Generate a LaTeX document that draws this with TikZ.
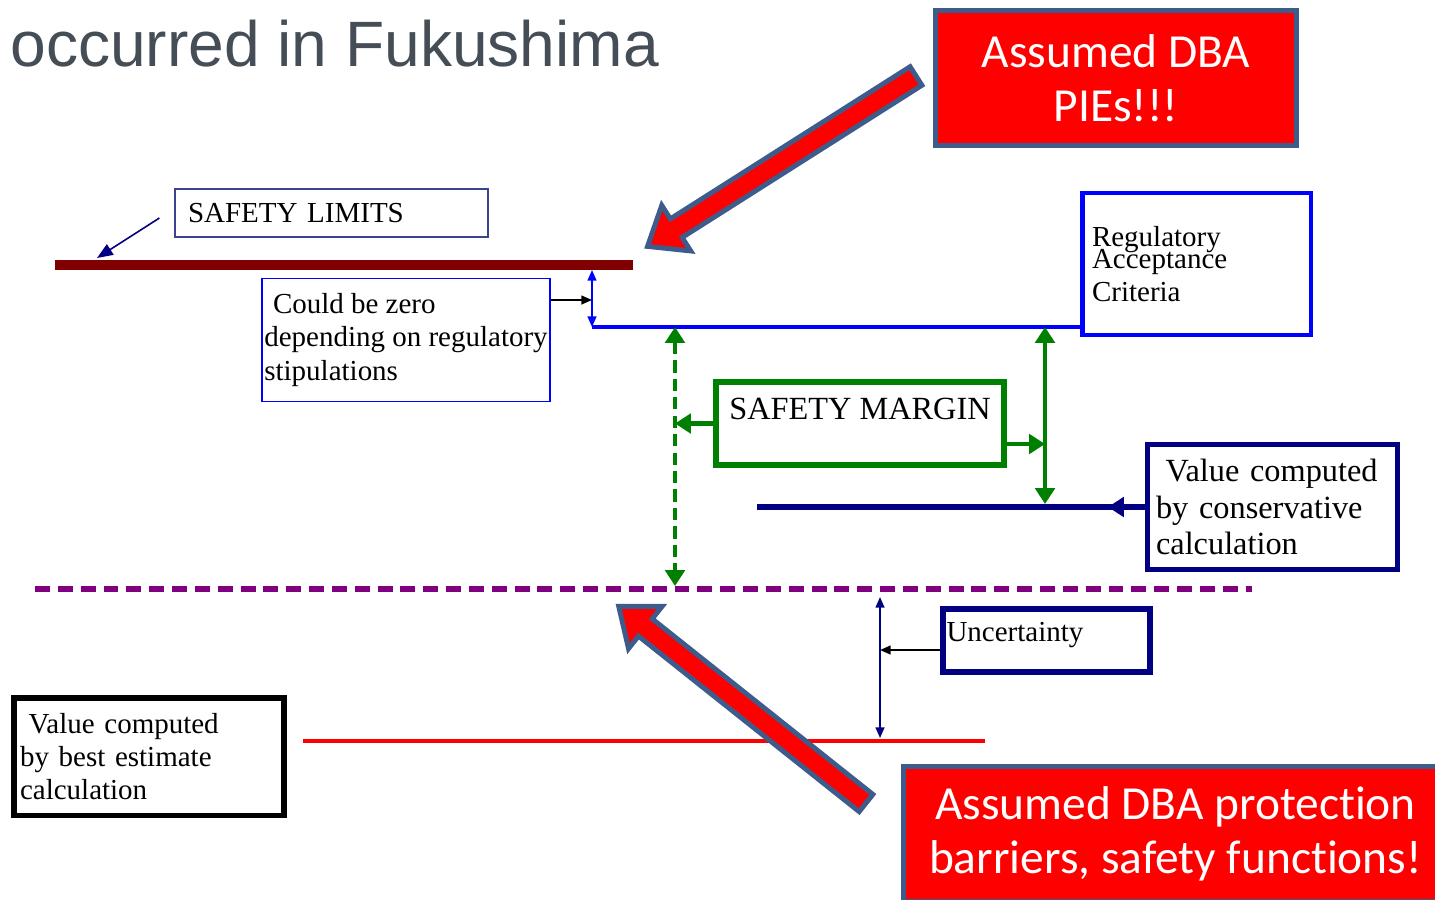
\documentclass[tikz,border=0pt]{standalone}
\usepackage{fontspec}
\setmainfont{Liberation Serif}
\newfontfamily\calfont[Ligatures=NoCommon]{Carlito}
\newfontfamily\headfont{Liberation Sans}
\usetikzlibrary{arrows.meta}
\definecolor{maroonline}{RGB}{128,0,0}
\definecolor{navyline}{RGB}{0,0,128}
\definecolor{greenline}{RGB}{0,128,0}
\definecolor{purpleline}{RGB}{128,0,128}
\definecolor{arrowedge}{RGB}{61,92,139}
\definecolor{headgray}{RGB}{69,78,86}
\definecolor{limedge}{RGB}{58,68,140}
\tikzset{
  txt/.style={font=\fontsize{16.5}{19}\selectfont, align=left, inner ysep=0pt},
  thinbox/.style={draw, line width=0.7pt, txt},
  thickbox/.style={draw, line width=2.8pt, txt},
  redbox/.style={draw=arrowedge, fill=red, line width=2.8pt, text=white,
    align=center, font=\calfont\fontsize{27}{31}\selectfont},
  bigarrow/.style={draw=arrowedge, fill=red, line width=2.8pt},
  thintip/.style={-{Triangle[length=6pt,width=5pt]}},
  thicktip/.style={-{Triangle[length=9pt,width=11pt]}},
  bothtip/.style={{Triangle[length=6pt,width=5pt]}-{Triangle[length=6pt,width=5pt]}},
  bigbothtip/.style={{Triangle[length=9pt,width=11pt]}-{Triangle[length=9pt,width=11pt]}}
}
\begin{document}
\begin{tikzpicture}[x=0.02cm, y=-0.02cm]
  \useasboundingbox (0,0) rectangle (1435,899);
  % heading
  \node[font=\headfont\fontsize{36.5}{40}\selectfont, text=headgray, inner sep=0pt,
    anchor=base west] (title) at (10,66) {occurred in Fukushima};
  % boxes
  \node[thinbox, draw=limedge, minimum width=6.26cm, minimum height=0.96cm,
    text width=5.74cm, inner xsep=0.26cm] (lim) at (331.5,213) {SAFETY LIMITS};
  \node[thinbox, draw=blue, minimum width=5.76cm, minimum height=2.46cm,
    inner xsep=0.02cm] (zero) at (406,340)
    {\hspace*{0.3em}Could be zero\\depending on regulatory\\stipulations};
  \node[thickbox, draw=blue, minimum width=4.58cm, minimum height=2.84cm,
    text width=4.18cm, inner xsep=0.2cm] (reg) at (1196.5,264)
    {Regulatory\\[-6.5pt]Acceptance\\Criteria};
  \node[thickbox, draw=greenline, line width=3.4pt, minimum width=5.76cm,
    minimum height=1.66cm, align=center, font=\fontsize{18.4}{21}\selectfont,
    text depth=17pt] (margin) at (860,423.5) {SAFETY MARGIN};
  \node[thickbox, draw=navyline, minimum width=5cm, minimum height=2.5cm,
    text width=4.66cm, inner xsep=0.17cm, font=\fontsize{18.4}{21}\selectfont]
    (cons) at (1272.5,507) {\hspace*{0.3em}Value computed\\by conservative\\calculation};
  \node[thickbox, draw=navyline, line width=3.4pt, minimum width=4.14cm,
    minimum height=1.26cm, text width=4cm, inner xsep=0.07cm, text depth=9.3pt]
    (unc) at (1046.5,640.5) {Uncertainty};
  \node[thickbox, draw=black, line width=3.4pt, minimum width=5.42cm,
    minimum height=2.36cm, text width=5.16cm, inner xsep=0.13cm] (best) at (149,756.5)
    {\hspace*{0.3em}Value computed\\by best estimate\\calculation};
  \node[redbox, minimum width=7.22cm, minimum height=2.7cm] (pies) at (1116,78)
    {Assumed DBA\\PIEs!!!};
  \node[redbox, minimum width=10.88cm, minimum height=2.69cm] (barr) at (1175.5,833.75)
    {Assumed DBA protection\\barriers, safety functions!};
  % levels
  \coordinate (lim0) at (55,265);
  \coordinate (lim1) at (633,265);
  \coordinate (limtip) at (97,258);
  \coordinate (zt) at (592,270);
  \coordinate (zb) at (592,327);
  \coordinate (zarr) at (592,300);
  \coordinate (gd0) at (675,327);
  \coordinate (gd1) at (675,586);
  \coordinate (gs0) at (1045,327);
  \coordinate (gs1) at (1045,504);
  \coordinate (gm) at (1045,444);
  \coordinate (cl0) at (757,507);
  \coordinate (ctip) at (1108,507);
  \coordinate (pl0) at (35,589);
  \coordinate (pl1) at (1252,589);
  \coordinate (u0) at (880,597);
  \coordinate (u1) at (880,738);
  \coordinate (ua) at (880,650);
  \coordinate (rl0) at (303,741);
  \coordinate (rl1) at (985,741);
  \draw[maroonline, line width=5.7pt] (lim0) -- (lim1);
  \draw[navyline, line width=0.9pt, -{Triangle[length=9pt,width=7pt]}]
    ([shift={(-15,5)}]lim.west) -- (limtip);
  \draw[blue, line width=0.9pt, bothtip] (zt) -- (zb);
  \draw[line width=0.9pt, thintip] (zero.east |- zarr) -- (zarr);
  \draw[blue, line width=2.8pt] (zb) -- (reg.west |- zb);
  \draw[purpleline, line width=3.4pt, dash pattern=on 8.5pt off 4.5pt] (pl0) -- (pl1);
  \draw[greenline, line width=2.8pt, dash pattern=on 7pt off 3.5pt, bigbothtip] (gd0) -- (gd1);
  \draw[greenline, line width=2.8pt, bigbothtip] (gs0) -- (gs1);
  \draw[greenline, line width=2.8pt, thicktip] (margin.west) -- (gd0 |- margin.west);
  \draw[greenline, line width=2.8pt, thicktip] (margin.east |- gm) -- (gm);
  \draw[navyline, line width=3.4pt] (cl0) -- (cons.west);
  \draw[navyline, line width=3.4pt, thicktip] (cons.west) -- (ctip);
  \draw[red, line width=2.8pt] (rl0) -- (rl1);
  \draw[navyline, line width=0.9pt, bothtip] (u0) -- (u1);
  \draw[line width=0.9pt, thintip] (unc.west |- ua) -- (ua);
  % big arrows
  \begin{scope}[shift={(916,76)}, rotate=212.4]
    \draw[bigarrow] (0,-11) -- (284,-11) -- (284,-27) -- (318,0)
      -- (284,27) -- (284,11) -- (0,11) -- cycle;
  \end{scope}
  \begin{scope}[shift={(866,803)}, rotate=141.5]
    \draw[bigarrow] (0,-11) -- (282,-11) -- (282,-27) -- (316,0)
      -- (282,27) -- (282,11) -- (0,11) -- cycle;
  \end{scope}
\end{tikzpicture}
\end{document}
